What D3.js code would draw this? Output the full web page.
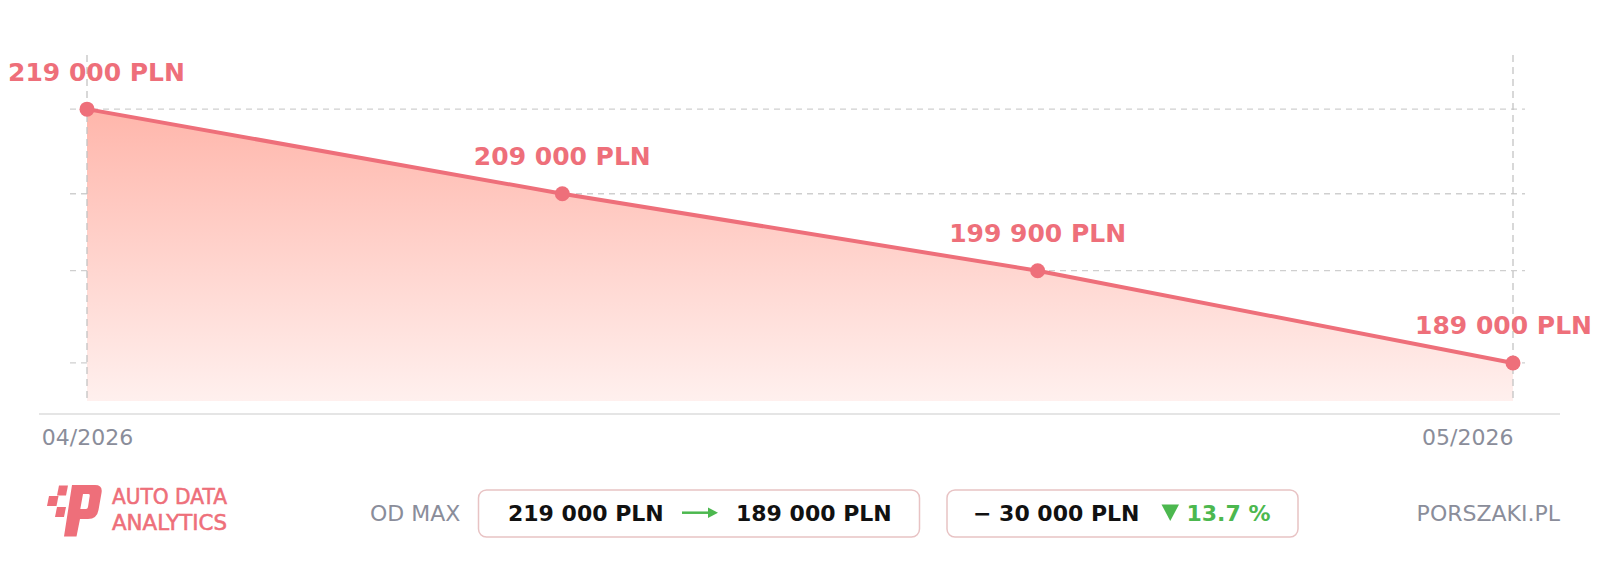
<!DOCTYPE html>
<html><head><meta charset="utf-8">
<script src="https://cdn.jsdelivr.net/npm/d3@7"></script>
<style>
html,body{margin:0;padding:0;background:#fff;}
svg{display:block;}
text{font-family:"DejaVu Sans",sans-serif;}
</style></head>
<body>
<svg id="c" width="1600" height="569"></svg>
<script>
// ---- data ----
const pointIndex = [0, 1, 2, 3];
const prices = [219000, 209000, 199900, 189000];
const tickIndex = [0, 3];
const tickLabels = ["04/2026", "05/2026"];
const summaryLabel = "OD MAX";
const fromPrice = 219000;
const toPrice = 189000;
const diffPrice = -30000;
const diffPct = 13.7;
const brandLines = ["AUTO DATA", "ANALYTICS"];
const siteLabel = "PORSZAKI.PL";

const fmt = v => d3.format(",")(Math.abs(v)).replace(/,/g, " ") + " PLN";

const svg = d3.select("#c");
const W = 1600;
const lineColor = "#ee6f7a";
const gray = "#8a8d9a";
const green = "#4cb84f";

const x = d3.scaleLinear().domain([0, 3]).range([87, 1513]);
const y = d3.scaleLinear().domain([184500, 225400]).range([401, 55]);
const yBase = y.domain()[0];

const defs = svg.append("defs");
const grad = defs.append("linearGradient").attr("id", "ag")
  .attr("gradientUnits", "userSpaceOnUse")
  .attr("x1", 0).attr("x2", 0)
  .attr("y1", y(d3.max(prices))).attr("y2", y(yBase));
grad.append("stop").attr("offset", "0%").attr("stop-color", "#ffb6ab");
grad.append("stop").attr("offset", "100%").attr("stop-color", "#fff0ee");

// horizontal grid at data values
svg.append("g").selectAll("line").data(prices).join("line")
  .attr("x1", 70).attr("x2", 1525)
  .attr("y1", d => y(d)).attr("y2", d => y(d))
  .attr("stroke", "#cfcfcf").attr("stroke-width", 1.3)
  .attr("stroke-dasharray", "6,5");

// area
const data = pointIndex.map((i, k) => ({i, v: prices[k]}));
svg.append("path").datum(data)
  .attr("fill", "url(#ag)")
  .attr("d", d3.area().x(d => x(d.i)).y0(y(yBase)).y1(d => y(d.v)));

// vertical dashed lines at ends
svg.append("g").selectAll("line").data(tickIndex).join("line")
  .attr("x1", d => x(d)).attr("x2", d => x(d))
  .attr("y1", 55).attr("y2", y(yBase))
  .attr("stroke", "#c4c4c4").attr("stroke-width", 1.3)
  .attr("stroke-dasharray", "7,5");

// axis
const axis = d3.axisBottom(x).tickValues(tickIndex)
  .tickFormat((d, k) => tickLabels[k]).tickSize(0).tickPadding(0);
const ag = svg.append("g").attr("transform", "translate(0,414)").call(axis);
ag.select(".domain").remove();
ag.append("line").attr("x1", 39).attr("x2", 1560).attr("y1", 0).attr("y2", 0)
  .attr("stroke", "#dcdcdc").attr("stroke-width", 1.5);
ag.selectAll(".tick text")
  .attr("fill", gray).attr("font-size", 22)
  .attr("font-family", "DejaVu Sans").attr("dy", null).attr("y", 31)
  .attr("text-anchor", (d, k) => k === tickIndex.length - 1 ? "end" : "middle");

// line
svg.append("path").datum(data)
  .attr("fill", "none").attr("stroke", lineColor).attr("stroke-width", 4)
  .attr("stroke-linejoin", "round")
  .attr("d", d3.line().x(d => x(d.i)).y(d => y(d.v)));

// points
svg.append("g").selectAll("circle").data(data).join("circle")
  .attr("cx", d => x(d.i)).attr("cy", d => y(d.v)).attr("r", 7.5)
  .attr("fill", lineColor);

// labels
const lbl = svg.append("g").selectAll("text").data(data).join("text")
  .attr("y", d => y(d.v) - 28.5)
  .attr("font-size", 25).attr("font-weight", "bold")
  .attr("fill", lineColor)
  .text(d => fmt(d.v));
lbl.each(function(d) {
  const w = this.getComputedTextLength();
  let cx = x(d.i) - w / 2;
  cx = Math.max(8, Math.min(W - 8 - w, cx));
  d3.select(this).attr("x", cx);
});

// ---- footer ----
const f = svg.append("g");
// logo icon
const logoColor = "#ee6f7a";
const icon = f.append("g").attr("fill", logoColor);
icon.append("path").attr("d", "M59 485.5 L68 485.5 L66 495.5 L57 495.5 Z");
icon.append("path").attr("d", "M49 496 L58.5 496 L56.5 506 L47 506 Z");
icon.append("path").attr("d", "M57 507 L66 507 L64 517 L55 517 Z");
icon.append("path").attr("fill-rule", "evenodd")
  .attr("d", "M72 485 L95 485 Q103 485 101.5 493 L98.5 510 Q97 519 88 519 L80 519 L76.5 536.5 L64 536.5 Z M83 494 L88.5 494 Q90 494 89.7 496 L88 507 Q87.6 509 86 509 L80.3 509 Z");
const brand = f.append("g").attr("fill", logoColor)
  .attr("stroke", logoColor).attr("stroke-width", 0.6)
  .attr("font-family", "Roboto").attr("font-size", 22);
brand.selectAll("text").data(brandLines).join("text")
  .attr("x", 112).attr("y", (d, k) => 503.5 + k * 26.5)
  .attr("textLength", 115).attr("lengthAdjust", "spacingAndGlyphs")
  .text(d => d);

f.append("text").attr("x", 370).attr("y", 520.5)
  .attr("font-size", 22).attr("fill", gray).text(summaryLabel);

// box 1
f.append("rect").attr("x", 478.5).attr("y", 490).attr("width", 441).attr("height", 47)
  .attr("rx", 8).attr("fill", "#fff").attr("stroke", "#e8c3c4").attr("stroke-width", 1.5);
f.append("text").attr("x", 508).attr("y", 520.7).attr("font-size", 22)
  .attr("font-weight", "bold").attr("fill", "#111").text(fmt(fromPrice));
f.append("line").attr("x1", 682).attr("x2", 709).attr("y1", 512.7).attr("y2", 512.7)
  .attr("stroke", green).attr("stroke-width", 2.5);
f.append("path").attr("d", "M708 507.5 L718 512.7 L708 517.9 Z").attr("fill", green);
f.append("text").attr("x", 736).attr("y", 520.7).attr("font-size", 22)
  .attr("font-weight", "bold").attr("fill", "#111").text(fmt(toPrice));

// box 2
f.append("rect").attr("x", 947).attr("y", 490).attr("width", 351).attr("height", 47)
  .attr("rx", 8).attr("fill", "#fff").attr("stroke", "#e8c3c4").attr("stroke-width", 1.5);
f.append("text").attr("x", 973).attr("y", 520.7).attr("font-size", 22)
  .attr("font-weight", "bold").attr("fill", "#111")
  .text((diffPrice < 0 ? "\u2212 " : "+ ") + fmt(diffPrice));
f.append("path").attr("d", "M1161.5 504.5 L1179 504.5 L1170.25 521 Z").attr("fill", green);
f.append("text").attr("x", 1186.5).attr("y", 520.7).attr("font-size", 22)
  .attr("font-weight", "bold").attr("fill", green)
  .text(diffPct.toFixed(1) + " %");

f.append("text").attr("x", 1560).attr("y", 520.5).attr("text-anchor", "end")
  .attr("font-size", 22).attr("fill", gray).text(siteLabel);
</script>
</body></html>
